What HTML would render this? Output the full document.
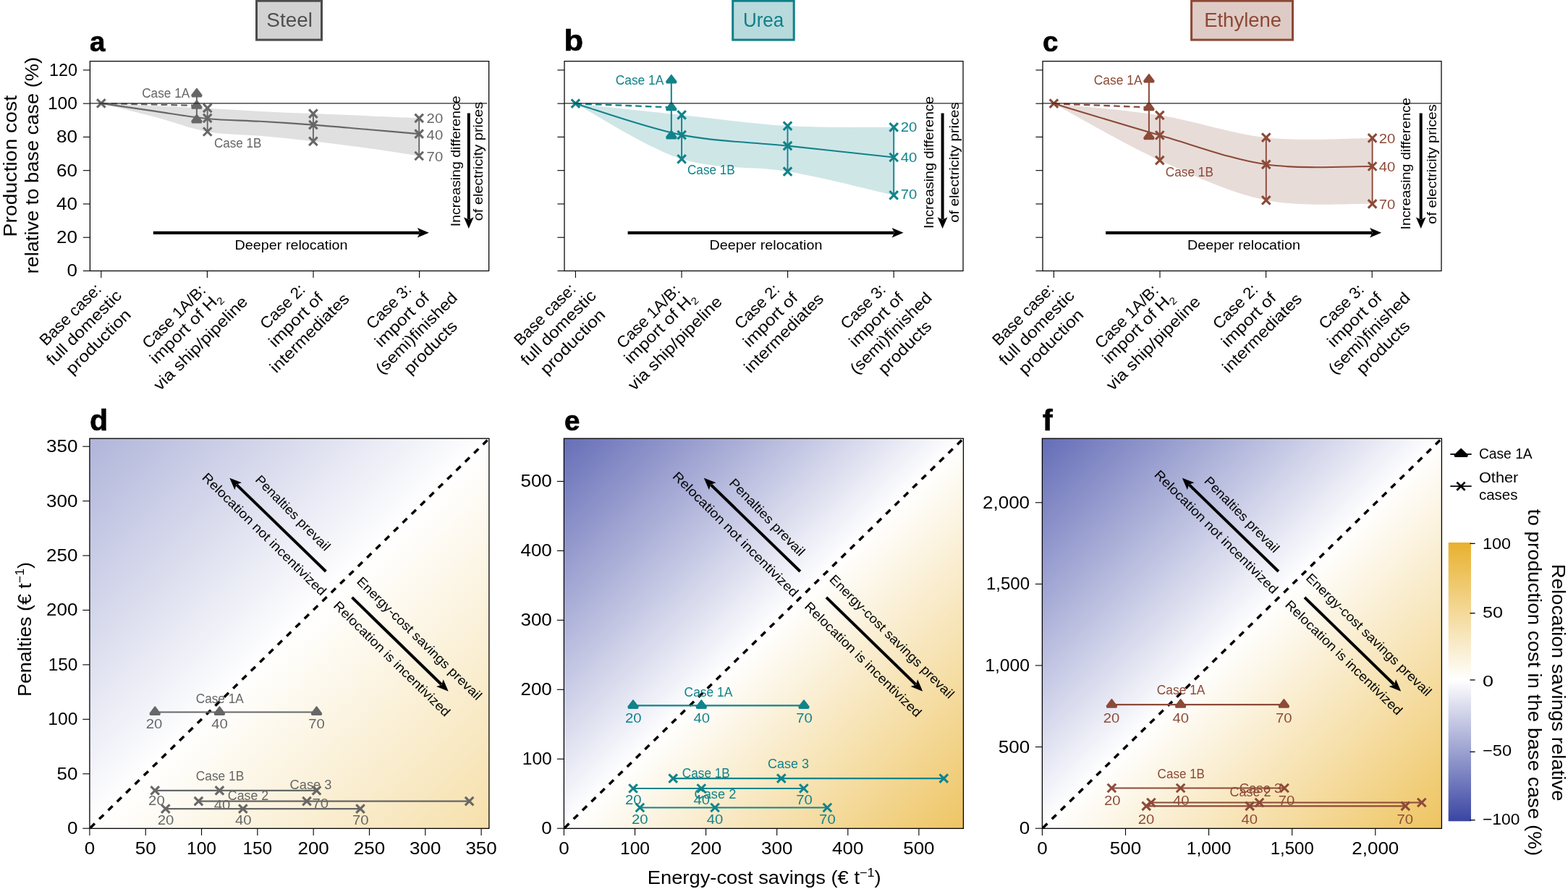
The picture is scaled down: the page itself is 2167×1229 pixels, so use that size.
<!DOCTYPE html>
<html lang="en"><head><meta charset="utf-8"><title>Relocation cost figure</title>
<style>
html,body{margin:0;padding:0;background:#fff;}
body{width:2167px;height:1229px;}
svg{display:block;font-family:'Liberation Sans', sans-serif;}
</style></head><body>
<svg width="2167" height="1229" viewBox="0 0 2167 1229" role="img" aria-label="Production cost and relocation savings for steel, urea and ethylene">
<rect x="354.50" y="1.2" width="90.00" height="53.90" fill="#d2d2d2" stroke="#4b4b4b" stroke-width="3"/>
<text x="400.10" y="36.80" font-size="27.3" text-anchor="middle" fill="#4f4f4f" textLength="63.50" lengthAdjust="spacingAndGlyphs">Steel</text>
<rect x="1012.70" y="1.2" width="84.50" height="53.90" fill="#b9dadc" stroke="#0f8087" stroke-width="3"/>
<text x="1055.10" y="36.80" font-size="27.3" text-anchor="middle" fill="#0f8087" textLength="56.30" lengthAdjust="spacingAndGlyphs">Urea</text>
<rect x="1646.60" y="1.2" width="139.90" height="53.90" fill="#dfcbc5" stroke="#8c4836" stroke-width="3"/>
<text x="1717.65" y="36.80" font-size="27.3" text-anchor="middle" fill="#8c4836" textLength="107.00" lengthAdjust="spacingAndGlyphs">Ethylene</text>
<path d="M139.80 142.90C152.08 143.47 189.07 145.15 213.50 146.30C237.93 147.45 262.05 148.53 286.40 149.80C310.75 151.07 335.18 152.68 359.60 153.90C384.02 155.12 408.50 156.07 432.90 157.10C457.30 158.13 481.62 159.07 506.00 160.10C530.38 161.13 567.00 162.77 579.20 163.30L579.20 215.50C567.00 213.67 530.38 207.87 506.00 204.50C481.62 201.13 457.30 198.08 432.90 195.30C408.50 192.52 384.02 190.03 359.60 187.80C335.18 185.57 310.75 186.28 286.40 181.90C262.05 177.52 237.93 168.00 213.50 161.50C189.07 155.00 152.08 146.00 139.80 142.90Z" fill="#e0e0e0"/>
<rect x="124.40" y="84.62" width="551.25" height="289.88" fill="none" stroke="#000" stroke-width="1.25"/>
<line x1="114.80" y1="374.50" x2="124.40" y2="374.50" stroke="#000" stroke-width="1.1"/>
<text x="107.00" y="382.40" font-size="23.0" text-anchor="end" textLength="14.45" lengthAdjust="spacingAndGlyphs">0</text>
<line x1="114.80" y1="328.23" x2="124.40" y2="328.23" stroke="#000" stroke-width="1.1"/>
<text x="107.00" y="336.13" font-size="23.0" text-anchor="end" textLength="28.91" lengthAdjust="spacingAndGlyphs">20</text>
<line x1="114.80" y1="281.96" x2="124.40" y2="281.96" stroke="#000" stroke-width="1.1"/>
<text x="107.00" y="289.86" font-size="23.0" text-anchor="end" textLength="28.91" lengthAdjust="spacingAndGlyphs">40</text>
<line x1="114.80" y1="235.69" x2="124.40" y2="235.69" stroke="#000" stroke-width="1.1"/>
<text x="107.00" y="243.59" font-size="23.0" text-anchor="end" textLength="28.91" lengthAdjust="spacingAndGlyphs">60</text>
<line x1="114.80" y1="189.42" x2="124.40" y2="189.42" stroke="#000" stroke-width="1.1"/>
<text x="107.00" y="197.32" font-size="23.0" text-anchor="end" textLength="28.91" lengthAdjust="spacingAndGlyphs">80</text>
<line x1="114.80" y1="143.15" x2="124.40" y2="143.15" stroke="#000" stroke-width="1.1"/>
<text x="107.00" y="151.05" font-size="23.0" text-anchor="end" textLength="41.06" lengthAdjust="spacingAndGlyphs">100</text>
<line x1="114.80" y1="96.88" x2="124.40" y2="96.88" stroke="#000" stroke-width="1.1"/>
<text x="107.00" y="104.78" font-size="23.0" text-anchor="end" textLength="38.95" lengthAdjust="spacingAndGlyphs">120</text>
<line x1="139.80" y1="374.50" x2="139.80" y2="384.10" stroke="#000" stroke-width="1.1"/>
<line x1="286.40" y1="374.50" x2="286.40" y2="384.10" stroke="#000" stroke-width="1.1"/>
<line x1="433.00" y1="374.50" x2="433.00" y2="384.10" stroke="#000" stroke-width="1.1"/>
<line x1="579.60" y1="374.50" x2="579.60" y2="384.10" stroke="#000" stroke-width="1.1"/>
<path d="M139.80 142.90C152.08 144.68 189.07 150.08 213.50 153.60C237.93 157.12 262.05 161.63 286.40 164.00C310.75 166.37 335.18 166.37 359.60 167.80C384.02 169.23 408.50 170.77 432.90 172.60C457.30 174.43 481.62 176.72 506.00 178.80C530.38 180.88 567.00 184.05 579.20 185.10" fill="none" stroke="#676767" stroke-width="2.1"/>
<line x1="139.80" y1="142.90" x2="271.90" y2="145.90" stroke="#676767" stroke-width="2.3" stroke-dasharray="8.6 5.2"/>
<line x1="271.90" y1="129.60" x2="271.90" y2="165.60" stroke="#676767" stroke-width="2.0"/>
<line x1="286.70" y1="149.30" x2="286.70" y2="182.00" stroke="#676767" stroke-width="1.9"/>
<path d="M280.95 143.55L292.45 155.05M280.95 155.05L292.45 143.55" stroke="#676767" stroke-width="3.1" fill="none"/>
<path d="M280.95 157.65L292.45 169.15M280.95 169.15L292.45 157.65" stroke="#676767" stroke-width="3.1" fill="none"/>
<path d="M280.95 176.25L292.45 187.75M280.95 187.75L292.45 176.25" stroke="#676767" stroke-width="3.1" fill="none"/>
<line x1="432.90" y1="157.10" x2="432.90" y2="195.30" stroke="#676767" stroke-width="1.9"/>
<path d="M427.15 151.35L438.65 162.85M427.15 162.85L438.65 151.35" stroke="#676767" stroke-width="3.1" fill="none"/>
<path d="M427.15 166.85L438.65 178.35M427.15 178.35L438.65 166.85" stroke="#676767" stroke-width="3.1" fill="none"/>
<path d="M427.15 189.55L438.65 201.05M427.15 201.05L438.65 189.55" stroke="#676767" stroke-width="3.1" fill="none"/>
<line x1="579.20" y1="163.30" x2="579.20" y2="215.50" stroke="#676767" stroke-width="1.9"/>
<path d="M573.45 157.55L584.95 169.05M573.45 169.05L584.95 157.55" stroke="#676767" stroke-width="3.1" fill="none"/>
<path d="M573.45 179.35L584.95 190.85M573.45 190.85L584.95 179.35" stroke="#676767" stroke-width="3.1" fill="none"/>
<path d="M573.45 209.75L584.95 221.25M573.45 221.25L584.95 209.75" stroke="#676767" stroke-width="3.1" fill="none"/>
<path d="M134.05 137.15L145.55 148.65M134.05 148.65L145.55 137.15" stroke="#676767" stroke-width="3.1" fill="none"/>
<path d="M271.90 122.50L278.80 131.60L278.20 133.60L265.60 133.60L265.00 131.60Z" fill="#676767" stroke="#676767" stroke-width="1.6" stroke-linejoin="round"/>
<path d="M271.90 138.80L278.80 147.90L278.20 149.90L265.60 149.90L265.00 147.90Z" fill="#676767" stroke="#676767" stroke-width="1.6" stroke-linejoin="round"/>
<path d="M271.90 158.50L278.80 167.60L278.20 169.60L265.60 169.60L265.00 167.60Z" fill="#676767" stroke="#676767" stroke-width="1.6" stroke-linejoin="round"/>
<line x1="124.40" y1="142.90" x2="673.25" y2="142.90" stroke="#262626" stroke-width="1.35"/>
<text x="196.20" y="134.60" font-size="17.6" fill="#676767" textLength="66.00" lengthAdjust="spacingAndGlyphs">Case 1A</text>
<text x="295.90" y="203.90" font-size="17.6" fill="#676767" textLength="65.60" lengthAdjust="spacingAndGlyphs">Case 1B</text>
<text x="589.60" y="169.80" font-size="17.6" fill="#676767" textLength="22.60" lengthAdjust="spacingAndGlyphs">20</text>
<text x="589.60" y="192.70" font-size="17.6" fill="#676767" textLength="22.60" lengthAdjust="spacingAndGlyphs">40</text>
<text x="589.60" y="223.10" font-size="17.6" fill="#676767" textLength="22.60" lengthAdjust="spacingAndGlyphs">70</text>
<line x1="211.80" y1="321.80" x2="579.90" y2="321.80" stroke="#000" stroke-width="4.2"/>
<path d="M592.80 321.80L576.80 328.50L580.40 321.80L576.80 315.10Z" fill="#000"/>
<text x="402.60" y="344.70" font-size="18.200000000000003" text-anchor="middle" textLength="156.00" lengthAdjust="spacingAndGlyphs">Deeper relocation</text>
<line x1="647.80" y1="156.60" x2="647.80" y2="303.30" stroke="#000" stroke-width="4.0"/>
<path d="M647.80 316.00L641.00 300.20L647.80 303.80L654.60 300.20Z" fill="#000"/>
<text x="636.00" y="222.80" font-size="18.200000000000003" text-anchor="middle" transform="rotate(-90 636.00 222.80)" textLength="181.00" lengthAdjust="spacingAndGlyphs">Increasing difference</text>
<text x="667.40" y="223.10" font-size="18.200000000000003" text-anchor="middle" transform="rotate(-90 667.40 223.10)" textLength="164.50" lengthAdjust="spacingAndGlyphs">of electricity prices</text>
<text x="102.50" y="440.00" font-size="22.0" text-anchor="middle" transform="rotate(-45 102.50 440.00)" textLength="110.20" lengthAdjust="spacingAndGlyphs">Base case:</text>
<text x="121.20" y="458.30" font-size="22.0" text-anchor="middle" transform="rotate(-45 121.20 458.30)" textLength="136.56" lengthAdjust="spacingAndGlyphs">full domestic</text>
<text x="141.10" y="477.60" font-size="22.0" text-anchor="middle" transform="rotate(-45 141.10 477.60)" textLength="116.75" lengthAdjust="spacingAndGlyphs">production</text>
<text x="245.60" y="442.80" font-size="22.0" text-anchor="middle" transform="rotate(-45 245.60 442.80)" textLength="113.63" lengthAdjust="spacingAndGlyphs">Case 1A/B:</text>
<text x="261.70" y="458.50" font-size="22.0" text-anchor="middle" transform="rotate(-45 261.70 458.50)" textLength="129.70" lengthAdjust="spacingAndGlyphs">import of H<tspan font-size="14" dy="5">2</tspan></text>
<text x="282.40" y="479.70" font-size="22.0" text-anchor="middle" transform="rotate(-45 282.40 479.70)" textLength="173.21" lengthAdjust="spacingAndGlyphs">via ship/pipeline</text>
<text x="395.80" y="428.90" font-size="22.0" text-anchor="middle" transform="rotate(-45 395.80 428.90)" textLength="77.55" lengthAdjust="spacingAndGlyphs">Case 2:</text>
<text x="414.20" y="447.20" font-size="22.0" text-anchor="middle" transform="rotate(-45 414.20 447.20)" textLength="96.31" lengthAdjust="spacingAndGlyphs">import of</text>
<text x="432.90" y="465.50" font-size="22.0" text-anchor="middle" transform="rotate(-45 432.90 465.50)" textLength="144.65" lengthAdjust="spacingAndGlyphs">intermediates</text>
<text x="542.40" y="428.90" font-size="22.0" text-anchor="middle" transform="rotate(-45 542.40 428.90)" textLength="77.55" lengthAdjust="spacingAndGlyphs">Case 3:</text>
<text x="560.80" y="447.20" font-size="22.0" text-anchor="middle" transform="rotate(-45 560.80 447.20)" textLength="96.31" lengthAdjust="spacingAndGlyphs">import of</text>
<text x="580.80" y="465.80" font-size="22.0" text-anchor="middle" transform="rotate(-45 580.80 465.80)" textLength="149.21" lengthAdjust="spacingAndGlyphs">(semi)finished</text>
<text x="600.20" y="485.50" font-size="22.0" text-anchor="middle" transform="rotate(-45 600.20 485.50)" textLength="94.06" lengthAdjust="spacingAndGlyphs">products</text>
<path d="M795.40 143.20C819.85 145.82 893.25 153.75 942.10 158.90C990.95 164.05 1039.65 171.27 1088.50 174.10C1137.35 176.93 1210.75 175.60 1235.20 175.90L1235.20 269.90C1210.75 264.43 1137.35 245.45 1088.50 237.10C1039.65 228.75 990.95 235.45 942.10 219.80C893.25 204.15 819.85 155.97 795.40 143.20Z" fill="#cfe6e7"/>
<rect x="780.00" y="84.62" width="551.0" height="289.88" fill="none" stroke="#000" stroke-width="1.25"/>
<line x1="770.40" y1="374.50" x2="780.00" y2="374.50" stroke="#000" stroke-width="1.1"/>
<line x1="770.40" y1="328.23" x2="780.00" y2="328.23" stroke="#000" stroke-width="1.1"/>
<line x1="770.40" y1="281.96" x2="780.00" y2="281.96" stroke="#000" stroke-width="1.1"/>
<line x1="770.40" y1="235.69" x2="780.00" y2="235.69" stroke="#000" stroke-width="1.1"/>
<line x1="770.40" y1="189.42" x2="780.00" y2="189.42" stroke="#000" stroke-width="1.1"/>
<line x1="770.40" y1="143.15" x2="780.00" y2="143.15" stroke="#000" stroke-width="1.1"/>
<line x1="770.40" y1="96.88" x2="780.00" y2="96.88" stroke="#000" stroke-width="1.1"/>
<line x1="795.40" y1="374.50" x2="795.40" y2="384.10" stroke="#000" stroke-width="1.1"/>
<line x1="942.00" y1="374.50" x2="942.00" y2="384.10" stroke="#000" stroke-width="1.1"/>
<line x1="1088.60" y1="374.50" x2="1088.60" y2="384.10" stroke="#000" stroke-width="1.1"/>
<line x1="1235.20" y1="374.50" x2="1235.20" y2="384.10" stroke="#000" stroke-width="1.1"/>
<path d="M795.40 143.20C819.85 150.43 893.25 176.87 942.10 186.60C990.95 196.33 1039.65 196.45 1088.50 201.60C1137.35 206.75 1210.75 214.85 1235.20 217.50" fill="none" stroke="#11838a" stroke-width="2.1"/>
<line x1="795.40" y1="143.20" x2="927.80" y2="148.40" stroke="#11838a" stroke-width="2.3" stroke-dasharray="8.6 5.2"/>
<line x1="927.80" y1="110.80" x2="927.80" y2="187.60" stroke="#11838a" stroke-width="2.0"/>
<line x1="942.10" y1="158.90" x2="942.10" y2="219.80" stroke="#11838a" stroke-width="1.9"/>
<path d="M936.35 153.15L947.85 164.65M936.35 164.65L947.85 153.15" stroke="#11838a" stroke-width="3.1" fill="none"/>
<path d="M936.35 180.85L947.85 192.35M936.35 192.35L947.85 180.85" stroke="#11838a" stroke-width="3.1" fill="none"/>
<path d="M936.35 214.05L947.85 225.55M936.35 225.55L947.85 214.05" stroke="#11838a" stroke-width="3.1" fill="none"/>
<line x1="1088.50" y1="174.10" x2="1088.50" y2="237.10" stroke="#11838a" stroke-width="1.9"/>
<path d="M1082.75 168.35L1094.25 179.85M1082.75 179.85L1094.25 168.35" stroke="#11838a" stroke-width="3.1" fill="none"/>
<path d="M1082.75 195.85L1094.25 207.35M1082.75 207.35L1094.25 195.85" stroke="#11838a" stroke-width="3.1" fill="none"/>
<path d="M1082.75 231.35L1094.25 242.85M1082.75 242.85L1094.25 231.35" stroke="#11838a" stroke-width="3.1" fill="none"/>
<line x1="1235.20" y1="175.90" x2="1235.20" y2="269.90" stroke="#11838a" stroke-width="1.9"/>
<path d="M1229.45 170.15L1240.95 181.65M1229.45 181.65L1240.95 170.15" stroke="#11838a" stroke-width="3.1" fill="none"/>
<path d="M1229.45 211.75L1240.95 223.25M1229.45 223.25L1240.95 211.75" stroke="#11838a" stroke-width="3.1" fill="none"/>
<path d="M1229.45 264.15L1240.95 275.65M1229.45 275.65L1240.95 264.15" stroke="#11838a" stroke-width="3.1" fill="none"/>
<path d="M789.65 137.45L801.15 148.95M789.65 148.95L801.15 137.45" stroke="#11838a" stroke-width="3.1" fill="none"/>
<path d="M927.80 103.70L934.70 112.80L934.10 114.80L921.50 114.80L920.90 112.80Z" fill="#11838a" stroke="#11838a" stroke-width="1.6" stroke-linejoin="round"/>
<path d="M927.80 141.30L934.70 150.40L934.10 152.40L921.50 152.40L920.90 150.40Z" fill="#11838a" stroke="#11838a" stroke-width="1.6" stroke-linejoin="round"/>
<path d="M927.80 180.50L934.70 189.60L934.10 191.60L921.50 191.60L920.90 189.60Z" fill="#11838a" stroke="#11838a" stroke-width="1.6" stroke-linejoin="round"/>
<line x1="780.00" y1="142.90" x2="1331.00" y2="142.90" stroke="#262626" stroke-width="1.35"/>
<text x="850.70" y="117.10" font-size="17.6" fill="#11838a" textLength="66.70" lengthAdjust="spacingAndGlyphs">Case 1A</text>
<text x="950.00" y="240.90" font-size="17.6" fill="#11838a" textLength="65.70" lengthAdjust="spacingAndGlyphs">Case 1B</text>
<text x="1244.80" y="181.80" font-size="17.6" fill="#11838a" textLength="22.60" lengthAdjust="spacingAndGlyphs">20</text>
<text x="1244.80" y="224.00" font-size="17.6" fill="#11838a" textLength="22.60" lengthAdjust="spacingAndGlyphs">40</text>
<text x="1244.80" y="274.80" font-size="17.6" fill="#11838a" textLength="22.60" lengthAdjust="spacingAndGlyphs">70</text>
<line x1="867.60" y1="321.80" x2="1235.70" y2="321.80" stroke="#000" stroke-width="4.2"/>
<path d="M1248.60 321.80L1232.60 328.50L1236.20 321.80L1232.60 315.10Z" fill="#000"/>
<text x="1058.40" y="344.70" font-size="18.200000000000003" text-anchor="middle" textLength="156.00" lengthAdjust="spacingAndGlyphs">Deeper relocation</text>
<line x1="1302.60" y1="156.60" x2="1302.60" y2="303.30" stroke="#000" stroke-width="4.0"/>
<path d="M1302.60 316.00L1295.80 300.20L1302.60 303.80L1309.40 300.20Z" fill="#000"/>
<text x="1289.90" y="224.60" font-size="18.200000000000003" text-anchor="middle" transform="rotate(-90 1289.90 224.60)" textLength="183.00" lengthAdjust="spacingAndGlyphs">Increasing difference</text>
<text x="1324.90" y="224.60" font-size="18.200000000000003" text-anchor="middle" transform="rotate(-90 1324.90 224.60)" textLength="166.30" lengthAdjust="spacingAndGlyphs">of electricity prices</text>
<text x="758.10" y="440.00" font-size="22.0" text-anchor="middle" transform="rotate(-45 758.10 440.00)" textLength="110.20" lengthAdjust="spacingAndGlyphs">Base case:</text>
<text x="776.80" y="458.30" font-size="22.0" text-anchor="middle" transform="rotate(-45 776.80 458.30)" textLength="136.56" lengthAdjust="spacingAndGlyphs">full domestic</text>
<text x="796.70" y="477.60" font-size="22.0" text-anchor="middle" transform="rotate(-45 796.70 477.60)" textLength="116.75" lengthAdjust="spacingAndGlyphs">production</text>
<text x="901.20" y="442.80" font-size="22.0" text-anchor="middle" transform="rotate(-45 901.20 442.80)" textLength="113.63" lengthAdjust="spacingAndGlyphs">Case 1A/B:</text>
<text x="917.30" y="458.50" font-size="22.0" text-anchor="middle" transform="rotate(-45 917.30 458.50)" textLength="129.70" lengthAdjust="spacingAndGlyphs">import of H<tspan font-size="14" dy="5">2</tspan></text>
<text x="938.00" y="479.70" font-size="22.0" text-anchor="middle" transform="rotate(-45 938.00 479.70)" textLength="173.21" lengthAdjust="spacingAndGlyphs">via ship/pipeline</text>
<text x="1051.40" y="428.90" font-size="22.0" text-anchor="middle" transform="rotate(-45 1051.40 428.90)" textLength="77.55" lengthAdjust="spacingAndGlyphs">Case 2:</text>
<text x="1069.80" y="447.20" font-size="22.0" text-anchor="middle" transform="rotate(-45 1069.80 447.20)" textLength="96.31" lengthAdjust="spacingAndGlyphs">import of</text>
<text x="1088.50" y="465.50" font-size="22.0" text-anchor="middle" transform="rotate(-45 1088.50 465.50)" textLength="144.65" lengthAdjust="spacingAndGlyphs">intermediates</text>
<text x="1198.00" y="428.90" font-size="22.0" text-anchor="middle" transform="rotate(-45 1198.00 428.90)" textLength="77.55" lengthAdjust="spacingAndGlyphs">Case 3:</text>
<text x="1216.40" y="447.20" font-size="22.0" text-anchor="middle" transform="rotate(-45 1216.40 447.20)" textLength="96.31" lengthAdjust="spacingAndGlyphs">import of</text>
<text x="1236.40" y="465.80" font-size="22.0" text-anchor="middle" transform="rotate(-45 1236.40 465.80)" textLength="149.21" lengthAdjust="spacingAndGlyphs">(semi)finished</text>
<text x="1255.80" y="485.50" font-size="22.0" text-anchor="middle" transform="rotate(-45 1255.80 485.50)" textLength="94.06" lengthAdjust="spacingAndGlyphs">products</text>
<path d="M1456.40 143.20C1480.80 145.88 1553.90 151.47 1602.80 159.30C1651.70 167.13 1700.83 184.93 1749.80 190.20C1798.77 195.47 1872.13 190.78 1896.60 190.90L1896.60 281.90C1872.13 281.05 1798.77 286.85 1749.80 276.80C1700.83 266.75 1651.70 243.87 1602.80 221.60C1553.90 199.33 1480.80 156.27 1456.40 143.20Z" fill="#e8dcd9"/>
<rect x="1441.00" y="84.62" width="551.0" height="289.88" fill="none" stroke="#000" stroke-width="1.25"/>
<line x1="1431.40" y1="374.50" x2="1441.00" y2="374.50" stroke="#000" stroke-width="1.1"/>
<line x1="1431.40" y1="328.23" x2="1441.00" y2="328.23" stroke="#000" stroke-width="1.1"/>
<line x1="1431.40" y1="281.96" x2="1441.00" y2="281.96" stroke="#000" stroke-width="1.1"/>
<line x1="1431.40" y1="235.69" x2="1441.00" y2="235.69" stroke="#000" stroke-width="1.1"/>
<line x1="1431.40" y1="189.42" x2="1441.00" y2="189.42" stroke="#000" stroke-width="1.1"/>
<line x1="1431.40" y1="143.15" x2="1441.00" y2="143.15" stroke="#000" stroke-width="1.1"/>
<line x1="1431.40" y1="96.88" x2="1441.00" y2="96.88" stroke="#000" stroke-width="1.1"/>
<line x1="1456.40" y1="374.50" x2="1456.40" y2="384.10" stroke="#000" stroke-width="1.1"/>
<line x1="1603.00" y1="374.50" x2="1603.00" y2="384.10" stroke="#000" stroke-width="1.1"/>
<line x1="1749.60" y1="374.50" x2="1749.60" y2="384.10" stroke="#000" stroke-width="1.1"/>
<line x1="1896.20" y1="374.50" x2="1896.20" y2="384.10" stroke="#000" stroke-width="1.1"/>
<path d="M1456.40 143.20C1480.80 150.50 1553.90 172.98 1602.80 187.00C1651.70 201.02 1700.83 220.13 1749.80 227.30C1798.77 234.47 1872.13 229.55 1896.60 230.00" fill="none" stroke="#8c4a38" stroke-width="2.1"/>
<line x1="1456.40" y1="143.20" x2="1587.90" y2="148.40" stroke="#8c4a38" stroke-width="2.3" stroke-dasharray="8.6 5.2"/>
<line x1="1587.90" y1="109.80" x2="1587.90" y2="188.50" stroke="#8c4a38" stroke-width="2.0"/>
<line x1="1602.80" y1="159.30" x2="1602.80" y2="221.60" stroke="#8c4a38" stroke-width="1.9"/>
<path d="M1597.05 153.55L1608.55 165.05M1597.05 165.05L1608.55 153.55" stroke="#8c4a38" stroke-width="3.1" fill="none"/>
<path d="M1597.05 181.25L1608.55 192.75M1597.05 192.75L1608.55 181.25" stroke="#8c4a38" stroke-width="3.1" fill="none"/>
<path d="M1597.05 215.85L1608.55 227.35M1597.05 227.35L1608.55 215.85" stroke="#8c4a38" stroke-width="3.1" fill="none"/>
<line x1="1749.80" y1="190.20" x2="1749.80" y2="276.80" stroke="#8c4a38" stroke-width="1.9"/>
<path d="M1744.05 184.45L1755.55 195.95M1744.05 195.95L1755.55 184.45" stroke="#8c4a38" stroke-width="3.1" fill="none"/>
<path d="M1744.05 221.55L1755.55 233.05M1744.05 233.05L1755.55 221.55" stroke="#8c4a38" stroke-width="3.1" fill="none"/>
<path d="M1744.05 271.05L1755.55 282.55M1744.05 282.55L1755.55 271.05" stroke="#8c4a38" stroke-width="3.1" fill="none"/>
<line x1="1896.60" y1="190.90" x2="1896.60" y2="281.90" stroke="#8c4a38" stroke-width="1.9"/>
<path d="M1890.85 185.15L1902.35 196.65M1890.85 196.65L1902.35 185.15" stroke="#8c4a38" stroke-width="3.1" fill="none"/>
<path d="M1890.85 224.25L1902.35 235.75M1890.85 235.75L1902.35 224.25" stroke="#8c4a38" stroke-width="3.1" fill="none"/>
<path d="M1890.85 276.15L1902.35 287.65M1890.85 287.65L1902.35 276.15" stroke="#8c4a38" stroke-width="3.1" fill="none"/>
<path d="M1450.65 137.45L1462.15 148.95M1450.65 148.95L1462.15 137.45" stroke="#8c4a38" stroke-width="3.1" fill="none"/>
<path d="M1587.90 102.70L1594.80 111.80L1594.20 113.80L1581.60 113.80L1581.00 111.80Z" fill="#8c4a38" stroke="#8c4a38" stroke-width="1.6" stroke-linejoin="round"/>
<path d="M1587.90 141.30L1594.80 150.40L1594.20 152.40L1581.60 152.40L1581.00 150.40Z" fill="#8c4a38" stroke="#8c4a38" stroke-width="1.6" stroke-linejoin="round"/>
<path d="M1587.90 181.40L1594.80 190.50L1594.20 192.50L1581.60 192.50L1581.00 190.50Z" fill="#8c4a38" stroke="#8c4a38" stroke-width="1.6" stroke-linejoin="round"/>
<line x1="1441.00" y1="142.90" x2="1992.00" y2="142.90" stroke="#262626" stroke-width="1.35"/>
<text x="1511.70" y="117.10" font-size="17.6" fill="#8c4a38" textLength="66.90" lengthAdjust="spacingAndGlyphs">Case 1A</text>
<text x="1610.80" y="244.10" font-size="17.6" fill="#8c4a38" textLength="66.10" lengthAdjust="spacingAndGlyphs">Case 1B</text>
<text x="1905.70" y="197.80" font-size="17.6" fill="#8c4a38" textLength="22.60" lengthAdjust="spacingAndGlyphs">20</text>
<text x="1905.70" y="237.00" font-size="17.6" fill="#8c4a38" textLength="22.60" lengthAdjust="spacingAndGlyphs">40</text>
<text x="1905.70" y="288.50" font-size="17.6" fill="#8c4a38" textLength="22.60" lengthAdjust="spacingAndGlyphs">70</text>
<line x1="1528.10" y1="321.80" x2="1896.20" y2="321.80" stroke="#000" stroke-width="4.2"/>
<path d="M1909.10 321.80L1893.10 328.50L1896.70 321.80L1893.10 315.10Z" fill="#000"/>
<text x="1718.90" y="344.70" font-size="18.200000000000003" text-anchor="middle" textLength="156.00" lengthAdjust="spacingAndGlyphs">Deeper relocation</text>
<line x1="1963.70" y1="156.60" x2="1963.70" y2="303.30" stroke="#000" stroke-width="4.0"/>
<path d="M1963.70 316.00L1956.90 300.20L1963.70 303.80L1970.50 300.20Z" fill="#000"/>
<text x="1949.20" y="226.20" font-size="18.200000000000003" text-anchor="middle" transform="rotate(-90 1949.20 226.20)" textLength="182.40" lengthAdjust="spacingAndGlyphs">Increasing difference</text>
<text x="1984.90" y="227.00" font-size="18.200000000000003" text-anchor="middle" transform="rotate(-90 1984.90 227.00)" textLength="165.50" lengthAdjust="spacingAndGlyphs">of electricity prices</text>
<text x="1419.10" y="440.00" font-size="22.0" text-anchor="middle" transform="rotate(-45 1419.10 440.00)" textLength="110.20" lengthAdjust="spacingAndGlyphs">Base case:</text>
<text x="1437.80" y="458.30" font-size="22.0" text-anchor="middle" transform="rotate(-45 1437.80 458.30)" textLength="136.56" lengthAdjust="spacingAndGlyphs">full domestic</text>
<text x="1457.70" y="477.60" font-size="22.0" text-anchor="middle" transform="rotate(-45 1457.70 477.60)" textLength="116.75" lengthAdjust="spacingAndGlyphs">production</text>
<text x="1562.20" y="442.80" font-size="22.0" text-anchor="middle" transform="rotate(-45 1562.20 442.80)" textLength="113.63" lengthAdjust="spacingAndGlyphs">Case 1A/B:</text>
<text x="1578.30" y="458.50" font-size="22.0" text-anchor="middle" transform="rotate(-45 1578.30 458.50)" textLength="129.70" lengthAdjust="spacingAndGlyphs">import of H<tspan font-size="14" dy="5">2</tspan></text>
<text x="1599.00" y="479.70" font-size="22.0" text-anchor="middle" transform="rotate(-45 1599.00 479.70)" textLength="173.21" lengthAdjust="spacingAndGlyphs">via ship/pipeline</text>
<text x="1712.40" y="428.90" font-size="22.0" text-anchor="middle" transform="rotate(-45 1712.40 428.90)" textLength="77.55" lengthAdjust="spacingAndGlyphs">Case 2:</text>
<text x="1730.80" y="447.20" font-size="22.0" text-anchor="middle" transform="rotate(-45 1730.80 447.20)" textLength="96.31" lengthAdjust="spacingAndGlyphs">import of</text>
<text x="1749.50" y="465.50" font-size="22.0" text-anchor="middle" transform="rotate(-45 1749.50 465.50)" textLength="144.65" lengthAdjust="spacingAndGlyphs">intermediates</text>
<text x="1859.00" y="428.90" font-size="22.0" text-anchor="middle" transform="rotate(-45 1859.00 428.90)" textLength="77.55" lengthAdjust="spacingAndGlyphs">Case 3:</text>
<text x="1877.40" y="447.20" font-size="22.0" text-anchor="middle" transform="rotate(-45 1877.40 447.20)" textLength="96.31" lengthAdjust="spacingAndGlyphs">import of</text>
<text x="1897.40" y="465.80" font-size="22.0" text-anchor="middle" transform="rotate(-45 1897.40 465.80)" textLength="149.21" lengthAdjust="spacingAndGlyphs">(semi)finished</text>
<text x="1916.80" y="485.50" font-size="22.0" text-anchor="middle" transform="rotate(-45 1916.80 485.50)" textLength="94.06" lengthAdjust="spacingAndGlyphs">products</text>
<text x="124.00" y="70.60" font-size="38.5" font-weight="700" stroke="#000" stroke-width="0.7">a</text>
<text x="779.60" y="69.80" font-size="40" font-weight="700" stroke="#000" stroke-width="0.7" textLength="26.60" lengthAdjust="spacingAndGlyphs">b</text>
<text x="1441.00" y="70.60" font-size="38.5" font-weight="700" stroke="#000" stroke-width="0.7">c</text>
<text x="22.80" y="229.70" font-size="25" text-anchor="middle" transform="rotate(-90 22.80 229.70)" textLength="195.50" lengthAdjust="spacingAndGlyphs">Production cost</text>
<text x="52.80" y="228.80" font-size="25" text-anchor="middle" transform="rotate(-90 52.80 228.80)" textLength="299.50" lengthAdjust="spacingAndGlyphs">relative to base case (%)</text>
<defs>
<linearGradient id="gd" gradientUnits="userSpaceOnUse" x1="130.43" y1="599.83" x2="669.37" y2="1151.67"><stop offset="0" stop-color="#b0b5da"/><stop offset="0.5" stop-color="#ffffff"/><stop offset="1" stop-color="#f6e0ab"/></linearGradient>
<linearGradient id="ge" gradientUnits="userSpaceOnUse" x1="785.93" y1="599.83" x2="1324.87" y2="1151.67"><stop offset="0" stop-color="#666eb7"/><stop offset="0.5" stop-color="#ffffff"/><stop offset="1" stop-color="#eec564"/></linearGradient>
<linearGradient id="gf" gradientUnits="userSpaceOnUse" x1="1446.93" y1="599.83" x2="1985.87" y2="1151.67"><stop offset="0" stop-color="#646db7"/><stop offset="0.5" stop-color="#ffffff"/><stop offset="1" stop-color="#eec460"/></linearGradient>
<linearGradient id="gcb" x1="0" y1="0" x2="0" y2="1"><stop offset="0" stop-color="#e8b12e"/><stop offset="0.4935" stop-color="#ffffff"/><stop offset="1" stop-color="#3a45a3"/></linearGradient>
</defs>
<rect x="123.90" y="606.2" width="552.0" height="539.10" fill="url(#gd)"/>
<line x1="123.90" y1="1145.30" x2="675.90" y2="606.20" stroke="#000" stroke-width="3.5" stroke-dasharray="8.5 8.74" stroke-dashoffset="-1.3"/>
<line x1="450.40" y1="790.00" x2="326.98" y2="670.11" stroke="#000" stroke-width="4.0"/>
<path d="M317.30 660.70L334.01 667.32L326.62 669.76L324.40 677.22Z" fill="#000"/>
<line x1="486.50" y1="825.90" x2="610.03" y2="946.28" stroke="#000" stroke-width="4.0"/>
<path d="M619.70 955.70L603.00 949.06L610.39 946.63L612.63 939.17Z" fill="#000"/>
<text x="400.40" y="713.60" font-size="18" text-anchor="middle" transform="rotate(45.3 400.40 713.60)" textLength="138.50" lengthAdjust="spacingAndGlyphs">Penalties prevail</text>
<text x="360.90" y="742.90" font-size="18" text-anchor="middle" transform="rotate(44.6 360.90 742.90)" textLength="232.50" lengthAdjust="spacingAndGlyphs">Relocation not incentivized</text>
<text x="575.40" y="887.00" font-size="18" text-anchor="middle" transform="rotate(44.5 575.40 887.00)" textLength="234.00" lengthAdjust="spacingAndGlyphs">Energy-cost savings prevail</text>
<text x="537.40" y="915.10" font-size="18" text-anchor="middle" transform="rotate(44.6 537.40 915.10)" textLength="218.00" lengthAdjust="spacingAndGlyphs">Relocation is incentivized</text>
<line x1="214.20" y1="984.50" x2="437.50" y2="984.50" stroke="#676767" stroke-width="2.2"/>
<path d="M214.20 977.10L221.10 986.20L220.50 988.20L207.90 988.20L207.30 986.20Z" fill="#676767" stroke="#676767" stroke-width="1.6" stroke-linejoin="round"/>
<path d="M303.40 977.10L310.30 986.20L309.70 988.20L297.10 988.20L296.50 986.20Z" fill="#676767" stroke="#676767" stroke-width="1.6" stroke-linejoin="round"/>
<path d="M437.50 977.10L444.40 986.20L443.80 988.20L431.20 988.20L430.60 986.20Z" fill="#676767" stroke="#676767" stroke-width="1.6" stroke-linejoin="round"/>
<line x1="214.20" y1="1092.90" x2="437.50" y2="1092.90" stroke="#676767" stroke-width="2.2"/>
<path d="M208.45 1087.15L219.95 1098.65M208.45 1098.65L219.95 1087.15" stroke="#676767" stroke-width="3.1" fill="none"/>
<path d="M297.65 1087.15L309.15 1098.65M297.65 1098.65L309.15 1087.15" stroke="#676767" stroke-width="3.1" fill="none"/>
<path d="M431.75 1087.15L443.25 1098.65M431.75 1098.65L443.25 1087.15" stroke="#676767" stroke-width="3.1" fill="none"/>
<line x1="274.40" y1="1107.60" x2="648.60" y2="1107.60" stroke="#676767" stroke-width="2.2"/>
<path d="M268.65 1101.85L280.15 1113.35M268.65 1113.35L280.15 1101.85" stroke="#676767" stroke-width="3.1" fill="none"/>
<path d="M418.25 1101.85L429.75 1113.35M418.25 1113.35L429.75 1101.85" stroke="#676767" stroke-width="3.1" fill="none"/>
<path d="M642.85 1101.85L654.35 1113.35M642.85 1113.35L654.35 1101.85" stroke="#676767" stroke-width="3.1" fill="none"/>
<line x1="228.80" y1="1118.20" x2="498.00" y2="1118.20" stroke="#676767" stroke-width="2.2"/>
<path d="M223.05 1112.45L234.55 1123.95M223.05 1123.95L234.55 1112.45" stroke="#676767" stroke-width="3.1" fill="none"/>
<path d="M330.05 1112.45L341.55 1123.95M330.05 1123.95L341.55 1112.45" stroke="#676767" stroke-width="3.1" fill="none"/>
<path d="M492.25 1112.45L503.75 1123.95M492.25 1123.95L503.75 1112.45" stroke="#676767" stroke-width="3.1" fill="none"/>
<text x="270.70" y="972.00" font-size="17.6" fill="#676767" textLength="66.10" lengthAdjust="spacingAndGlyphs">Case 1A</text>
<text x="213.10" y="1007.00" font-size="17.6" text-anchor="middle" fill="#676767" textLength="22.60" lengthAdjust="spacingAndGlyphs">20</text>
<text x="303.50" y="1007.00" font-size="17.6" text-anchor="middle" fill="#676767" textLength="22.60" lengthAdjust="spacingAndGlyphs">40</text>
<text x="437.60" y="1007.00" font-size="17.6" text-anchor="middle" fill="#676767" textLength="22.60" lengthAdjust="spacingAndGlyphs">70</text>
<text x="270.70" y="1078.90" font-size="17.6" fill="#676767" textLength="66.60" lengthAdjust="spacingAndGlyphs">Case 1B</text>
<text x="216.40" y="1113.10" font-size="17.6" text-anchor="middle" fill="#676767" textLength="22.60" lengthAdjust="spacingAndGlyphs">20</text>
<text x="307.10" y="1119.00" font-size="17.6" text-anchor="middle" fill="#676767" textLength="22.60" lengthAdjust="spacingAndGlyphs">40</text>
<text x="442.70" y="1116.80" font-size="17.6" text-anchor="middle" fill="#676767" textLength="22.60" lengthAdjust="spacingAndGlyphs">70</text>
<text x="400.60" y="1091.30" font-size="17.6" fill="#676767" textLength="57.90" lengthAdjust="spacingAndGlyphs">Case 3</text>
<text x="314.80" y="1105.90" font-size="17.6" fill="#676767" textLength="56.30" lengthAdjust="spacingAndGlyphs">Case 2</text>
<text x="229.10" y="1139.60" font-size="17.6" text-anchor="middle" fill="#676767" textLength="22.60" lengthAdjust="spacingAndGlyphs">20</text>
<text x="336.30" y="1139.60" font-size="17.6" text-anchor="middle" fill="#676767" textLength="22.60" lengthAdjust="spacingAndGlyphs">40</text>
<text x="498.20" y="1139.60" font-size="17.6" text-anchor="middle" fill="#676767" textLength="22.60" lengthAdjust="spacingAndGlyphs">70</text>
<rect x="123.90" y="606.2" width="552.0" height="539.10" fill="none" stroke="#000" stroke-width="1.3"/>
<line x1="123.90" y1="1145.30" x2="123.90" y2="1154.90" stroke="#000" stroke-width="1.1"/>
<text x="123.90" y="1181.20" font-size="23.0" text-anchor="middle" textLength="14.45" lengthAdjust="spacingAndGlyphs">0</text>
<line x1="201.22" y1="1145.30" x2="201.22" y2="1154.90" stroke="#000" stroke-width="1.1"/>
<text x="201.22" y="1181.20" font-size="23.0" text-anchor="middle" textLength="28.91" lengthAdjust="spacingAndGlyphs">50</text>
<line x1="278.53" y1="1145.30" x2="278.53" y2="1154.90" stroke="#000" stroke-width="1.1"/>
<text x="278.53" y="1181.20" font-size="23.0" text-anchor="middle" textLength="41.06" lengthAdjust="spacingAndGlyphs">100</text>
<line x1="355.85" y1="1145.30" x2="355.85" y2="1154.90" stroke="#000" stroke-width="1.1"/>
<text x="355.85" y="1181.20" font-size="23.0" text-anchor="middle" textLength="40.68" lengthAdjust="spacingAndGlyphs">150</text>
<line x1="433.16" y1="1145.30" x2="433.16" y2="1154.90" stroke="#000" stroke-width="1.1"/>
<text x="433.16" y="1181.20" font-size="23.0" text-anchor="middle" textLength="43.36" lengthAdjust="spacingAndGlyphs">200</text>
<line x1="510.48" y1="1145.30" x2="510.48" y2="1154.90" stroke="#000" stroke-width="1.1"/>
<text x="510.48" y="1181.20" font-size="23.0" text-anchor="middle" textLength="43.36" lengthAdjust="spacingAndGlyphs">250</text>
<line x1="587.79" y1="1145.30" x2="587.79" y2="1154.90" stroke="#000" stroke-width="1.1"/>
<text x="587.79" y="1181.20" font-size="23.0" text-anchor="middle" textLength="43.36" lengthAdjust="spacingAndGlyphs">300</text>
<line x1="665.11" y1="1145.30" x2="665.11" y2="1154.90" stroke="#000" stroke-width="1.1"/>
<text x="665.11" y="1181.20" font-size="23.0" text-anchor="middle" textLength="43.36" lengthAdjust="spacingAndGlyphs">350</text>
<line x1="114.30" y1="1145.20" x2="123.90" y2="1145.20" stroke="#000" stroke-width="1.1"/>
<text x="107.40" y="1153.10" font-size="23.0" text-anchor="end" textLength="14.45" lengthAdjust="spacingAndGlyphs">0</text>
<line x1="114.30" y1="1069.78" x2="123.90" y2="1069.78" stroke="#000" stroke-width="1.1"/>
<text x="107.40" y="1077.68" font-size="23.0" text-anchor="end" textLength="28.91" lengthAdjust="spacingAndGlyphs">50</text>
<line x1="114.30" y1="994.35" x2="123.90" y2="994.35" stroke="#000" stroke-width="1.1"/>
<text x="107.40" y="1002.25" font-size="23.0" text-anchor="end" textLength="41.06" lengthAdjust="spacingAndGlyphs">100</text>
<line x1="114.30" y1="918.93" x2="123.90" y2="918.93" stroke="#000" stroke-width="1.1"/>
<text x="107.40" y="926.83" font-size="23.0" text-anchor="end" textLength="40.68" lengthAdjust="spacingAndGlyphs">150</text>
<line x1="114.30" y1="843.50" x2="123.90" y2="843.50" stroke="#000" stroke-width="1.1"/>
<text x="107.40" y="851.40" font-size="23.0" text-anchor="end" textLength="43.36" lengthAdjust="spacingAndGlyphs">200</text>
<line x1="114.30" y1="768.08" x2="123.90" y2="768.08" stroke="#000" stroke-width="1.1"/>
<text x="107.40" y="775.98" font-size="23.0" text-anchor="end" textLength="43.36" lengthAdjust="spacingAndGlyphs">250</text>
<line x1="114.30" y1="692.65" x2="123.90" y2="692.65" stroke="#000" stroke-width="1.1"/>
<text x="107.40" y="700.55" font-size="23.0" text-anchor="end" textLength="43.36" lengthAdjust="spacingAndGlyphs">300</text>
<line x1="114.30" y1="617.23" x2="123.90" y2="617.23" stroke="#000" stroke-width="1.1"/>
<text x="107.40" y="625.12" font-size="23.0" text-anchor="end" textLength="43.36" lengthAdjust="spacingAndGlyphs">350</text>
<rect x="779.40" y="606.2" width="552.0" height="539.10" fill="url(#ge)"/>
<line x1="779.40" y1="1145.30" x2="1331.40" y2="606.20" stroke="#000" stroke-width="3.5" stroke-dasharray="8.5 8.74" stroke-dashoffset="-1.3"/>
<line x1="1105.90" y1="790.00" x2="982.48" y2="670.11" stroke="#000" stroke-width="4.0"/>
<path d="M972.80 660.70L989.51 667.32L982.12 669.76L979.90 677.22Z" fill="#000"/>
<line x1="1142.00" y1="825.90" x2="1265.53" y2="946.28" stroke="#000" stroke-width="4.0"/>
<path d="M1275.20 955.70L1258.50 949.06L1265.89 946.63L1268.13 939.17Z" fill="#000"/>
<text x="1055.90" y="719.30" font-size="18" text-anchor="middle" transform="rotate(45.9 1055.90 719.30)" textLength="141.00" lengthAdjust="spacingAndGlyphs">Penalties prevail</text>
<text x="1012.30" y="742.90" font-size="18" text-anchor="middle" transform="rotate(44.9 1012.30 742.90)" textLength="236.50" lengthAdjust="spacingAndGlyphs">Relocation not incentivized</text>
<text x="1228.30" y="884.40" font-size="18" text-anchor="middle" transform="rotate(44.7 1228.30 884.40)" textLength="234.00" lengthAdjust="spacingAndGlyphs">Energy-cost savings prevail</text>
<text x="1188.60" y="916.00" font-size="18" text-anchor="middle" transform="rotate(44.5 1188.60 916.00)" textLength="218.00" lengthAdjust="spacingAndGlyphs">Relocation is incentivized</text>
<line x1="875.00" y1="975.40" x2="1111.00" y2="975.40" stroke="#11838a" stroke-width="2.2"/>
<path d="M875.00 968.00L881.90 977.10L881.30 979.10L868.70 979.10L868.10 977.10Z" fill="#11838a" stroke="#11838a" stroke-width="1.6" stroke-linejoin="round"/>
<path d="M969.30 968.00L976.20 977.10L975.60 979.10L963.00 979.10L962.40 977.10Z" fill="#11838a" stroke="#11838a" stroke-width="1.6" stroke-linejoin="round"/>
<path d="M1111.00 968.00L1117.90 977.10L1117.30 979.10L1104.70 979.10L1104.10 977.10Z" fill="#11838a" stroke="#11838a" stroke-width="1.6" stroke-linejoin="round"/>
<line x1="930.20" y1="1076.20" x2="1304.30" y2="1076.20" stroke="#11838a" stroke-width="2.2"/>
<path d="M924.45 1070.45L935.95 1081.95M924.45 1081.95L935.95 1070.45" stroke="#11838a" stroke-width="3.1" fill="none"/>
<path d="M1074.05 1070.45L1085.55 1081.95M1074.05 1081.95L1085.55 1070.45" stroke="#11838a" stroke-width="3.1" fill="none"/>
<path d="M1298.55 1070.45L1310.05 1081.95M1298.55 1081.95L1310.05 1070.45" stroke="#11838a" stroke-width="3.1" fill="none"/>
<line x1="875.00" y1="1090.00" x2="1110.80" y2="1090.00" stroke="#11838a" stroke-width="2.2"/>
<path d="M869.25 1084.25L880.75 1095.75M869.25 1095.75L880.75 1084.25" stroke="#11838a" stroke-width="3.1" fill="none"/>
<path d="M963.55 1084.25L975.05 1095.75M963.55 1095.75L975.05 1084.25" stroke="#11838a" stroke-width="3.1" fill="none"/>
<path d="M1105.05 1084.25L1116.55 1095.75M1105.05 1095.75L1116.55 1084.25" stroke="#11838a" stroke-width="3.1" fill="none"/>
<line x1="884.40" y1="1116.50" x2="1143.40" y2="1116.50" stroke="#11838a" stroke-width="2.2"/>
<path d="M878.65 1110.75L890.15 1122.25M878.65 1122.25L890.15 1110.75" stroke="#11838a" stroke-width="3.1" fill="none"/>
<path d="M982.35 1110.75L993.85 1122.25M982.35 1122.25L993.85 1110.75" stroke="#11838a" stroke-width="3.1" fill="none"/>
<path d="M1137.65 1110.75L1149.15 1122.25M1137.65 1122.25L1149.15 1110.75" stroke="#11838a" stroke-width="3.1" fill="none"/>
<text x="945.60" y="963.40" font-size="17.6" fill="#11838a" textLength="66.80" lengthAdjust="spacingAndGlyphs">Case 1A</text>
<text x="875.30" y="998.90" font-size="17.6" text-anchor="middle" fill="#11838a" textLength="22.60" lengthAdjust="spacingAndGlyphs">20</text>
<text x="969.80" y="998.90" font-size="17.6" text-anchor="middle" fill="#11838a" textLength="22.60" lengthAdjust="spacingAndGlyphs">40</text>
<text x="1111.50" y="998.90" font-size="17.6" text-anchor="middle" fill="#11838a" textLength="22.60" lengthAdjust="spacingAndGlyphs">70</text>
<text x="1060.90" y="1062.20" font-size="17.6" fill="#11838a" textLength="57.20" lengthAdjust="spacingAndGlyphs">Case 3</text>
<text x="942.80" y="1075.00" font-size="17.6" fill="#11838a" textLength="66.00" lengthAdjust="spacingAndGlyphs">Case 1B</text>
<text x="875.30" y="1111.70" font-size="17.6" text-anchor="middle" fill="#11838a" textLength="22.60" lengthAdjust="spacingAndGlyphs">20</text>
<text x="969.80" y="1111.70" font-size="17.6" text-anchor="middle" fill="#11838a" textLength="22.60" lengthAdjust="spacingAndGlyphs">40</text>
<text x="1111.50" y="1111.70" font-size="17.6" text-anchor="middle" fill="#11838a" textLength="22.60" lengthAdjust="spacingAndGlyphs">70</text>
<text x="959.60" y="1103.70" font-size="17.6" fill="#11838a" textLength="57.70" lengthAdjust="spacingAndGlyphs">Case 2</text>
<text x="884.20" y="1139.00" font-size="17.6" text-anchor="middle" fill="#11838a" textLength="22.60" lengthAdjust="spacingAndGlyphs">20</text>
<text x="988.00" y="1139.00" font-size="17.6" text-anchor="middle" fill="#11838a" textLength="22.60" lengthAdjust="spacingAndGlyphs">40</text>
<text x="1143.40" y="1139.00" font-size="17.6" text-anchor="middle" fill="#11838a" textLength="22.60" lengthAdjust="spacingAndGlyphs">70</text>
<rect x="779.40" y="606.2" width="552.0" height="539.10" fill="none" stroke="#000" stroke-width="1.3"/>
<line x1="779.40" y1="1145.30" x2="779.40" y2="1154.90" stroke="#000" stroke-width="1.1"/>
<text x="779.40" y="1181.20" font-size="23.0" text-anchor="middle" textLength="14.45" lengthAdjust="spacingAndGlyphs">0</text>
<line x1="877.50" y1="1145.30" x2="877.50" y2="1154.90" stroke="#000" stroke-width="1.1"/>
<text x="877.50" y="1181.20" font-size="23.0" text-anchor="middle" textLength="41.06" lengthAdjust="spacingAndGlyphs">100</text>
<line x1="975.60" y1="1145.30" x2="975.60" y2="1154.90" stroke="#000" stroke-width="1.1"/>
<text x="975.60" y="1181.20" font-size="23.0" text-anchor="middle" textLength="43.36" lengthAdjust="spacingAndGlyphs">200</text>
<line x1="1073.70" y1="1145.30" x2="1073.70" y2="1154.90" stroke="#000" stroke-width="1.1"/>
<text x="1073.70" y="1181.20" font-size="23.0" text-anchor="middle" textLength="43.36" lengthAdjust="spacingAndGlyphs">300</text>
<line x1="1171.80" y1="1145.30" x2="1171.80" y2="1154.90" stroke="#000" stroke-width="1.1"/>
<text x="1171.80" y="1181.20" font-size="23.0" text-anchor="middle" textLength="43.36" lengthAdjust="spacingAndGlyphs">400</text>
<line x1="1269.90" y1="1145.30" x2="1269.90" y2="1154.90" stroke="#000" stroke-width="1.1"/>
<text x="1269.90" y="1181.20" font-size="23.0" text-anchor="middle" textLength="43.36" lengthAdjust="spacingAndGlyphs">500</text>
<line x1="769.80" y1="1145.20" x2="779.40" y2="1145.20" stroke="#000" stroke-width="1.1"/>
<text x="762.80" y="1153.10" font-size="23.0" text-anchor="end" textLength="14.45" lengthAdjust="spacingAndGlyphs">0</text>
<line x1="769.80" y1="1049.25" x2="779.40" y2="1049.25" stroke="#000" stroke-width="1.1"/>
<text x="762.80" y="1057.15" font-size="23.0" text-anchor="end" textLength="41.06" lengthAdjust="spacingAndGlyphs">100</text>
<line x1="769.80" y1="953.30" x2="779.40" y2="953.30" stroke="#000" stroke-width="1.1"/>
<text x="762.80" y="961.20" font-size="23.0" text-anchor="end" textLength="43.36" lengthAdjust="spacingAndGlyphs">200</text>
<line x1="769.80" y1="857.35" x2="779.40" y2="857.35" stroke="#000" stroke-width="1.1"/>
<text x="762.80" y="865.25" font-size="23.0" text-anchor="end" textLength="43.36" lengthAdjust="spacingAndGlyphs">300</text>
<line x1="769.80" y1="761.40" x2="779.40" y2="761.40" stroke="#000" stroke-width="1.1"/>
<text x="762.80" y="769.30" font-size="23.0" text-anchor="end" textLength="43.36" lengthAdjust="spacingAndGlyphs">400</text>
<line x1="769.80" y1="665.45" x2="779.40" y2="665.45" stroke="#000" stroke-width="1.1"/>
<text x="762.80" y="673.35" font-size="23.0" text-anchor="end" textLength="43.36" lengthAdjust="spacingAndGlyphs">500</text>
<rect x="1440.40" y="606.2" width="552.0" height="539.10" fill="url(#gf)"/>
<line x1="1440.40" y1="1145.30" x2="1992.40" y2="606.20" stroke="#000" stroke-width="3.5" stroke-dasharray="8.5 8.74" stroke-dashoffset="-1.3"/>
<line x1="1766.90" y1="790.00" x2="1643.48" y2="670.11" stroke="#000" stroke-width="4.0"/>
<path d="M1633.80 660.70L1650.51 667.32L1643.12 669.76L1640.90 677.22Z" fill="#000"/>
<line x1="1803.00" y1="825.90" x2="1926.53" y2="946.28" stroke="#000" stroke-width="4.0"/>
<path d="M1936.20 955.70L1919.50 949.06L1926.89 946.63L1929.13 939.17Z" fill="#000"/>
<text x="1712.00" y="715.70" font-size="18" text-anchor="middle" transform="rotate(45.5 1712.00 715.70)" textLength="139.00" lengthAdjust="spacingAndGlyphs">Penalties prevail</text>
<text x="1676.60" y="739.60" font-size="18" text-anchor="middle" transform="rotate(45.0 1676.60 739.60)" textLength="233.00" lengthAdjust="spacingAndGlyphs">Relocation not incentivized</text>
<text x="1887.60" y="881.90" font-size="18" text-anchor="middle" transform="rotate(44.3 1887.60 881.90)" textLength="234.00" lengthAdjust="spacingAndGlyphs">Energy-cost savings prevail</text>
<text x="1853.00" y="913.40" font-size="18" text-anchor="middle" transform="rotate(44.3 1853.00 913.40)" textLength="218.00" lengthAdjust="spacingAndGlyphs">Relocation is incentivized</text>
<line x1="1536.40" y1="974.20" x2="1774.40" y2="974.20" stroke="#8c4a38" stroke-width="2.2"/>
<path d="M1536.40 966.80L1543.30 975.90L1542.70 977.90L1530.10 977.90L1529.50 975.90Z" fill="#8c4a38" stroke="#8c4a38" stroke-width="1.6" stroke-linejoin="round"/>
<path d="M1631.60 966.80L1638.50 975.90L1637.90 977.90L1625.30 977.90L1624.70 975.90Z" fill="#8c4a38" stroke="#8c4a38" stroke-width="1.6" stroke-linejoin="round"/>
<path d="M1774.40 966.80L1781.30 975.90L1780.70 977.90L1768.10 977.90L1767.50 975.90Z" fill="#8c4a38" stroke="#8c4a38" stroke-width="1.6" stroke-linejoin="round"/>
<line x1="1536.40" y1="1089.50" x2="1775.10" y2="1089.50" stroke="#8c4a38" stroke-width="2.2"/>
<path d="M1530.65 1083.75L1542.15 1095.25M1530.65 1095.25L1542.15 1083.75" stroke="#8c4a38" stroke-width="3.1" fill="none"/>
<path d="M1625.85 1083.75L1637.35 1095.25M1625.85 1095.25L1637.35 1083.75" stroke="#8c4a38" stroke-width="3.1" fill="none"/>
<path d="M1769.35 1083.75L1780.85 1095.25M1769.35 1095.25L1780.85 1083.75" stroke="#8c4a38" stroke-width="3.1" fill="none"/>
<line x1="1590.90" y1="1109.50" x2="1964.80" y2="1109.50" stroke="#8c4a38" stroke-width="2.2"/>
<path d="M1585.15 1103.75L1596.65 1115.25M1585.15 1115.25L1596.65 1103.75" stroke="#8c4a38" stroke-width="3.1" fill="none"/>
<path d="M1734.75 1103.75L1746.25 1115.25M1734.75 1115.25L1746.25 1103.75" stroke="#8c4a38" stroke-width="3.1" fill="none"/>
<path d="M1959.05 1103.75L1970.55 1115.25M1959.05 1115.25L1970.55 1103.75" stroke="#8c4a38" stroke-width="3.1" fill="none"/>
<line x1="1584.20" y1="1114.30" x2="1942.30" y2="1114.30" stroke="#8c4a38" stroke-width="2.2"/>
<path d="M1578.45 1108.55L1589.95 1120.05M1578.45 1120.05L1589.95 1108.55" stroke="#8c4a38" stroke-width="3.1" fill="none"/>
<path d="M1721.45 1108.55L1732.95 1120.05M1721.45 1120.05L1732.95 1108.55" stroke="#8c4a38" stroke-width="3.1" fill="none"/>
<path d="M1936.55 1108.55L1948.05 1120.05M1936.55 1120.05L1948.05 1108.55" stroke="#8c4a38" stroke-width="3.1" fill="none"/>
<text x="1598.70" y="960.00" font-size="17.6" fill="#8c4a38" textLength="66.80" lengthAdjust="spacingAndGlyphs">Case 1A</text>
<text x="1536.10" y="998.90" font-size="17.6" text-anchor="middle" fill="#8c4a38" textLength="22.60" lengthAdjust="spacingAndGlyphs">20</text>
<text x="1631.80" y="998.90" font-size="17.6" text-anchor="middle" fill="#8c4a38" textLength="22.60" lengthAdjust="spacingAndGlyphs">40</text>
<text x="1774.20" y="998.90" font-size="17.6" text-anchor="middle" fill="#8c4a38" textLength="22.60" lengthAdjust="spacingAndGlyphs">70</text>
<text x="1599.60" y="1076.20" font-size="17.6" fill="#8c4a38" textLength="65.40" lengthAdjust="spacingAndGlyphs">Case 1B</text>
<text x="1537.20" y="1112.60" font-size="17.6" text-anchor="middle" fill="#8c4a38" textLength="22.60" lengthAdjust="spacingAndGlyphs">20</text>
<text x="1632.20" y="1112.60" font-size="17.6" text-anchor="middle" fill="#8c4a38" textLength="22.60" lengthAdjust="spacingAndGlyphs">40</text>
<text x="1778.10" y="1112.60" font-size="17.6" text-anchor="middle" fill="#8c4a38" textLength="22.60" lengthAdjust="spacingAndGlyphs">70</text>
<text x="1712.70" y="1095.80" font-size="17.6" fill="#8c4a38" textLength="58.70" lengthAdjust="spacingAndGlyphs">Case 3</text>
<text x="1699.50" y="1100.60" font-size="17.6" fill="#8c4a38" textLength="56.90" lengthAdjust="spacingAndGlyphs">Case 2</text>
<text x="1584.00" y="1139.00" font-size="17.6" text-anchor="middle" fill="#8c4a38" textLength="22.60" lengthAdjust="spacingAndGlyphs">20</text>
<text x="1726.80" y="1139.00" font-size="17.6" text-anchor="middle" fill="#8c4a38" textLength="22.60" lengthAdjust="spacingAndGlyphs">40</text>
<text x="1941.70" y="1139.00" font-size="17.6" text-anchor="middle" fill="#8c4a38" textLength="22.60" lengthAdjust="spacingAndGlyphs">70</text>
<rect x="1440.40" y="606.2" width="552.0" height="539.10" fill="none" stroke="#000" stroke-width="1.3"/>
<line x1="1440.40" y1="1145.30" x2="1440.40" y2="1154.90" stroke="#000" stroke-width="1.1"/>
<text x="1440.40" y="1181.20" font-size="23.0" text-anchor="middle" textLength="14.45" lengthAdjust="spacingAndGlyphs">0</text>
<line x1="1555.50" y1="1145.30" x2="1555.50" y2="1154.90" stroke="#000" stroke-width="1.1"/>
<text x="1555.50" y="1181.20" font-size="23.0" text-anchor="middle" textLength="43.36" lengthAdjust="spacingAndGlyphs">500</text>
<line x1="1670.60" y1="1145.30" x2="1670.60" y2="1154.90" stroke="#000" stroke-width="1.1"/>
<text x="1670.60" y="1181.20" font-size="23.0" text-anchor="middle" textLength="61.87" lengthAdjust="spacingAndGlyphs">1,000</text>
<line x1="1785.70" y1="1145.30" x2="1785.70" y2="1154.90" stroke="#000" stroke-width="1.1"/>
<text x="1785.70" y="1181.20" font-size="23.0" text-anchor="middle" textLength="60.15" lengthAdjust="spacingAndGlyphs">1,500</text>
<line x1="1900.80" y1="1145.30" x2="1900.80" y2="1154.90" stroke="#000" stroke-width="1.1"/>
<text x="1900.80" y="1181.20" font-size="23.0" text-anchor="middle" textLength="65.04" lengthAdjust="spacingAndGlyphs">2,000</text>
<line x1="1430.80" y1="1145.20" x2="1440.40" y2="1145.20" stroke="#000" stroke-width="1.1"/>
<text x="1423.10" y="1153.10" font-size="23.0" text-anchor="end" textLength="14.45" lengthAdjust="spacingAndGlyphs">0</text>
<line x1="1430.80" y1="1032.60" x2="1440.40" y2="1032.60" stroke="#000" stroke-width="1.1"/>
<text x="1423.10" y="1040.50" font-size="23.0" text-anchor="end" textLength="43.36" lengthAdjust="spacingAndGlyphs">500</text>
<line x1="1430.80" y1="920.00" x2="1440.40" y2="920.00" stroke="#000" stroke-width="1.1"/>
<text x="1423.10" y="927.90" font-size="23.0" text-anchor="end" textLength="61.87" lengthAdjust="spacingAndGlyphs">1,000</text>
<line x1="1430.80" y1="807.40" x2="1440.40" y2="807.40" stroke="#000" stroke-width="1.1"/>
<text x="1423.10" y="815.30" font-size="23.0" text-anchor="end" textLength="60.15" lengthAdjust="spacingAndGlyphs">1,500</text>
<line x1="1430.80" y1="694.80" x2="1440.40" y2="694.80" stroke="#000" stroke-width="1.1"/>
<text x="1423.10" y="702.70" font-size="23.0" text-anchor="end" textLength="65.04" lengthAdjust="spacingAndGlyphs">2,000</text>
<text x="124.00" y="594.80" font-size="41" font-weight="700" stroke="#000" stroke-width="0.7">d</text>
<text x="780.00" y="594.80" font-size="38.5" font-weight="700" stroke="#000" stroke-width="0.7">e</text>
<text x="1441.00" y="594.80" font-size="41" font-weight="700" stroke="#000" stroke-width="0.7">f</text>
<text x="43.40" y="870.00" font-size="25" text-anchor="middle" transform="rotate(-90 43.40 870.00)" textLength="186.00" lengthAdjust="spacingAndGlyphs">Penalties (€ t<tspan font-size="16.5" dy="-10.5">−1</tspan><tspan dy="10.5">)</tspan></text>
<text x="1056.20" y="1222.00" font-size="25" text-anchor="middle" textLength="323.00" lengthAdjust="spacingAndGlyphs">Energy-cost savings (€ t<tspan font-size="16.5" dy="-10.5">−1</tspan><tspan dy="10.5">)</tspan></text>
<line x1="2004.30" y1="627.90" x2="2033.70" y2="627.90" stroke="#000" stroke-width="1.8"/>
<path d="M2019.20 620.50L2028.10 629.10L2027.50 631.10L2010.90 631.10L2010.30 629.10Z" fill="#000" stroke="#000" stroke-width="1.6" stroke-linejoin="round"/>
<text x="2043.90" y="633.60" font-size="20.5" textLength="73.80" lengthAdjust="spacingAndGlyphs">Case 1A</text>
<line x1="2004.30" y1="672.20" x2="2033.70" y2="672.20" stroke="#000" stroke-width="1.8"/>
<path d="M2013.40 666.60L2024.60 677.80M2013.40 677.80L2024.60 666.60" stroke="#000" stroke-width="2.7" fill="none"/>
<text x="2043.90" y="667.00" font-size="20.5" textLength="54.50" lengthAdjust="spacingAndGlyphs">Other</text>
<text x="2043.90" y="691.00" font-size="20.5" textLength="53.50" lengthAdjust="spacingAndGlyphs">cases</text>
<rect x="2001.7" y="750.0" width="31.3" height="385.3" fill="url(#gcb)"/>
<line x1="2031.50" y1="751.40" x2="2038.60" y2="751.40" stroke="#000" stroke-width="1.3"/>
<text x="2049.00" y="759.00" font-size="22.5" textLength="39.04" lengthAdjust="spacingAndGlyphs">100</text>
<line x1="2031.50" y1="847.70" x2="2038.60" y2="847.70" stroke="#000" stroke-width="1.3"/>
<text x="2049.00" y="854.00" font-size="22.5" textLength="28.03" lengthAdjust="spacingAndGlyphs">50</text>
<line x1="2031.50" y1="940.00" x2="2038.60" y2="940.00" stroke="#000" stroke-width="1.3"/>
<text x="2049.00" y="949.10" font-size="22.5" textLength="15.02" lengthAdjust="spacingAndGlyphs">0</text>
<line x1="2031.50" y1="1039.40" x2="2038.60" y2="1039.40" stroke="#000" stroke-width="1.3"/>
<text x="2049.00" y="1045.00" font-size="22.5" textLength="40.08" lengthAdjust="spacingAndGlyphs">−50</text>
<line x1="2031.50" y1="1133.70" x2="2038.60" y2="1133.70" stroke="#000" stroke-width="1.3"/>
<text x="2049.00" y="1139.70" font-size="22.5" textLength="51.44" lengthAdjust="spacingAndGlyphs">−100</text>
<text x="2145.40" y="943.70" font-size="26" text-anchor="middle" transform="rotate(90 2145.40 943.70)" textLength="328.00" lengthAdjust="spacingAndGlyphs">Relocation savings relative</text>
<text x="2111.80" y="943.50" font-size="26" text-anchor="middle" transform="rotate(90 2111.80 943.50)" textLength="479.50" lengthAdjust="spacingAndGlyphs">to production cost in the base case (%)</text>
</svg>
</body></html>
